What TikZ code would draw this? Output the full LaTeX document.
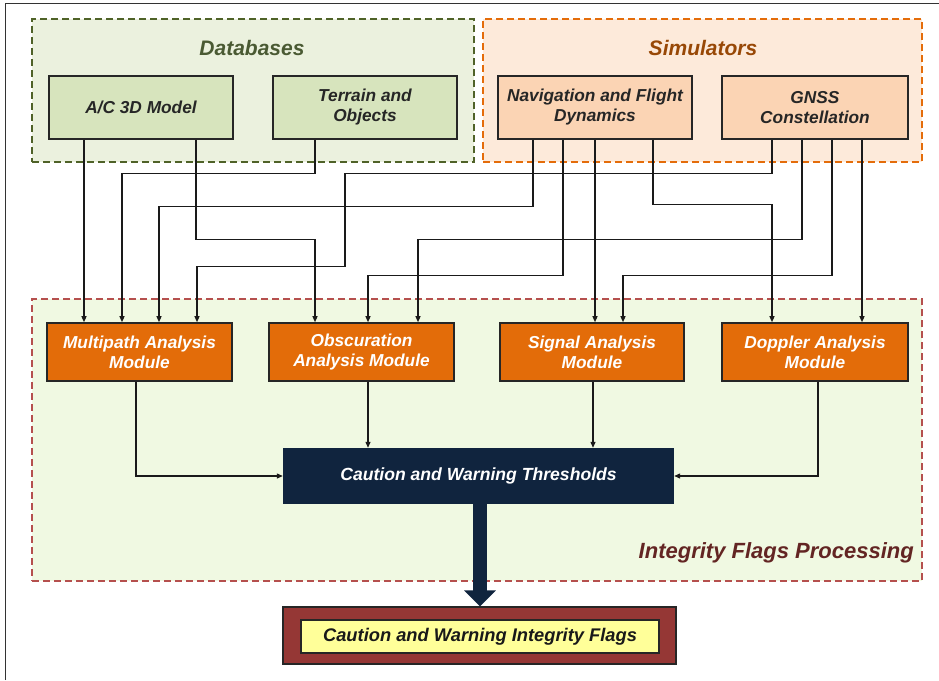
\documentclass[tikz,border=0pt]{standalone}
\usepackage{fontspec}
\setmainfont{Liberation Sans}
\usetikzlibrary{arrows.meta}
\definecolor{dbfill}{HTML}{EBF1DE}
\definecolor{dbline}{HTML}{4F6228}
\definecolor{dbbox}{HTML}{D7E4BD}
\definecolor{simfill}{HTML}{FDEADA}
\definecolor{simline}{HTML}{E46C0A}
\definecolor{simbox}{HTML}{FBD4B4}
\definecolor{intfill}{HTML}{F0F9E2}
\definecolor{intline}{HTML}{B5504E}
\definecolor{modfill}{HTML}{E36C09}
\definecolor{navy}{HTML}{10243E}
\definecolor{flagred}{HTML}{953735}
\definecolor{flagyel}{HTML}{FFFF99}
\definecolor{dbtitle}{HTML}{4A5A33}
\definecolor{simtitle}{HTML}{984806}
\definecolor{inttitle}{HTML}{632523}
\definecolor{wire}{HTML}{1A1A1A}
\begin{document}
\begin{tikzpicture}[x=1pt,y=-1pt,
  group/.style={draw, dash pattern=on 7pt off 4pt, line width=1.2pt, inner sep=0pt},
  boxtext/.style={font=\bfseries\itshape\fontsize{17.3}{20}\selectfont, align=center, inner sep=0pt},
  srcbox/.style={boxtext, draw=black!85, line width=1.6pt, minimum height=63pt, text=black!85},
  modbox/.style={boxtext, draw=black!85, line width=1.6pt, fill=modfill, minimum height=58pt, text=white},
  gtitle/.style={font=\bfseries\itshape\fontsize{21}{25}\selectfont, inner sep=0pt},
  arr/.style={draw=wire, line width=1.2pt, -{Triangle[length=6pt,width=5pt]}},
  bigarr/.style={draw=navy, line width=14pt, -{Triangle[length=16pt,width=31pt]}}
]
\useasboundingbox (0,0) rectangle (939,680);
\fill[white] (0,0) rectangle (939,680);
\draw[line width=1pt, black!80] (5,680) -- (5,3) -- (939,3);

% groups
\node[group, draw=dbline, fill=dbfill, minimum width=442pt, minimum height=143pt] (dbg) at (253,90.5) {};
\node[group, draw=simline, fill=simfill, minimum width=439pt, minimum height=143pt] (simg) at (702.5,90.5) {};
\node[group, draw=intline, fill=intfill, minimum width=890pt, minimum height=282pt] (intg) at (477,440) {};

\node[gtitle, text=dbtitle] (dbt) at (252,48) {Databases};
\node[gtitle, text=simtitle] (simt) at (703,48) {Simulators};
\node[gtitle, text=inttitle, anchor=east, font=\bfseries\itshape\fontsize{22}{26}\selectfont] (intt) at (914,553) {Integrity Flags Processing};

% source boxes
\node[srcbox, fill=dbbox, minimum width=184pt] (ac) at (141,107.5) {A/C 3D Model};
\node[srcbox, fill=dbbox, minimum width=184pt] (ter) at (365,107.5) {Terrain and\\Objects};
\node[srcbox, fill=simbox, minimum width=194pt] (nav) at (595,107.5) {Navigation and Flight\\Dynamics};
\node[srcbox, fill=simbox, minimum width=186pt] (gnss) at (815,107.5) {GNSS\\Constellation};

% modules
\node[modbox, minimum width=185pt] (mp) at (139.5,352) {Multipath Analysis\\Module};
\node[modbox, minimum width=185pt] (obs) at (361.5,352) {Obscuration\\Analysis Module};
\node[modbox, minimum width=184pt] (sig) at (592,352) {Signal Analysis\\Module};
\node[modbox, minimum width=186pt] (dop) at (815,352) {Doppler Analysis\\Module};

% thresholds
\node[boxtext, fill=navy, text=white, minimum width=391pt, minimum height=56pt, font=\bfseries\itshape\fontsize{17.6}{20}\selectfont] (thr) at (478.5,476) {Caution and Warning Thresholds};

% flags
\node[draw=black!85, line width=1.4pt, fill=flagred, minimum width=393pt, minimum height=57pt, inner sep=0pt] (flagsout) at (479.5,635.5) {};
\node[boxtext, draw=black!85, line width=1.4pt, fill=flagyel, text=black!90, minimum width=358pt, minimum height=33pt, font=\bfseries\itshape\fontsize{18.3}{20}\selectfont] (flags) at (480,636.5) {Caution and Warning Integrity Flags};

% connectors into modules
\draw[arr] ([xshift=-57pt]ac.south) -- ([xshift=-55.5pt]mp.north);
\draw[arr] ([xshift=55pt]ac.south) -- ++(0,100) -| ([xshift=-46.5pt]obs.north);
\draw[arr] ([xshift=-50pt]ter.south) -- ++(0,34) -| ([xshift=-17.5pt]mp.north);
\draw[arr] ([xshift=-62pt]nav.south) -- ++(0,67) -| ([xshift=19.5pt]mp.north);
\draw[arr] ([xshift=-32pt]nav.south) -- ++(0,136) -| ([xshift=6.5pt]obs.north);
\draw[arr] (nav.south) -- ([xshift=3pt]sig.north);
\draw[arr] ([xshift=58pt]nav.south) -- ++(0,65) -| ([xshift=-43pt]dop.north);
\draw[arr] ([xshift=-43pt]gnss.south) -- ++(0,34) -- ++(-427,0) -- ++(0,93) -| ([xshift=57.5pt]mp.north);
\draw[arr] ([xshift=-13pt]gnss.south) -- ++(0,100) -| ([xshift=56.5pt]obs.north);
\draw[arr] ([xshift=17pt]gnss.south) -- ++(0,136) -| ([xshift=31pt]sig.north);
\draw[arr] ([xshift=47pt]gnss.south) -- ([xshift=47pt]dop.north);

% connectors into thresholds
\draw[arr] ([xshift=-3.5pt]mp.south) |- (thr.west);
\draw[arr] ([xshift=6.5pt]obs.south) -- ([xshift=-110.5pt]thr.north);
\draw[arr] ([xshift=1pt]sig.south) -- ([xshift=114.5pt]thr.north);
\draw[arr] ([xshift=3pt]dop.south) |- (thr.east);

% big arrow
\draw[bigarr] ([xshift=1.5pt]thr.south) -- ([xshift=0.5pt]flagsout.north);
\end{tikzpicture}
\end{document}
